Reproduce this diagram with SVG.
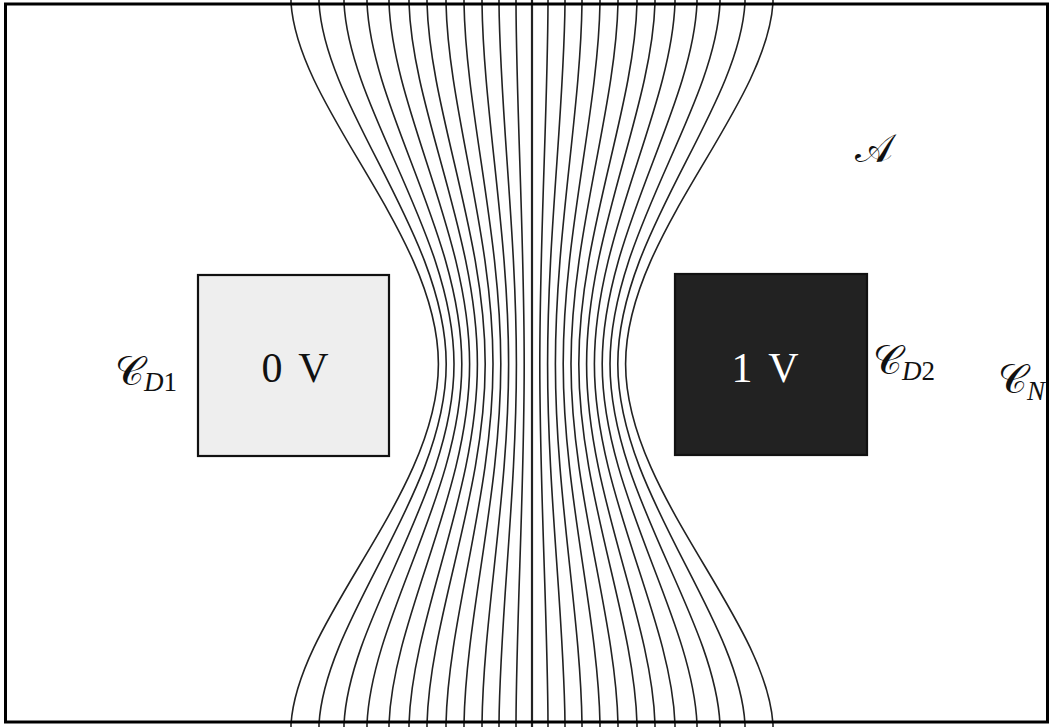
<svg xmlns="http://www.w3.org/2000/svg" xmlns:xlink="http://www.w3.org/1999/xlink" width="1051" height="727" viewBox="0 0 1051 727">
<style>
.fl{fill:none;stroke:#222;stroke-width:1.6}
.box{stroke:#111;stroke-width:2.2}
.val{font-family:"Liberation Serif",serif;font-size:42px;word-spacing:6px}
.cal{font-family:"DejaVu Serif","Liberation Serif",serif;font-size:40px;fill:#111}
.sub{font-family:"Liberation Serif",serif;font-size:27px;font-style:italic}
.subr{font-family:"Liberation Serif",serif;font-size:27px}
</style>
<defs>
<path id="fl" class="fl" vector-effect="non-scaling-stroke" d="M1,0 L1,3 C0.95,110 0,235 0,364 C0,493 0.95,617 1,724 L1,727"/>
</defs>
<rect x="0" y="0" width="1051" height="727" fill="#fff"/>
<g id="connectors">
<line x1="532" y1="0" x2="532" y2="727" stroke="#222" stroke-width="2.2"/>
<use xlink:href="#fl" transform="translate(539.8,0) scale(8.2,1)"/>
<use xlink:href="#fl" transform="translate(547.6,0) scale(17.4,1)"/>
<use xlink:href="#fl" transform="translate(555.4,0) scale(26.6,1)"/>
<use xlink:href="#fl" transform="translate(563.2,0) scale(36.8,1)"/>
<use xlink:href="#fl" transform="translate(571,0) scale(47,1)"/>
<use xlink:href="#fl" transform="translate(578.8,0) scale(58.2,1)"/>
<use xlink:href="#fl" transform="translate(586.6,0) scale(68.4,1)"/>
<use xlink:href="#fl" transform="translate(594.4,0) scale(80.6,1)"/>
<use xlink:href="#fl" transform="translate(602.2,0) scale(94.8,1)"/>
<use xlink:href="#fl" transform="translate(610,0) scale(110,1)"/>
<use xlink:href="#fl" transform="translate(617.8,0) scale(127.2,1)"/>
<use xlink:href="#fl" transform="translate(625.6,0) scale(147.4,1)"/>
<use xlink:href="#fl" transform="translate(524.2,0) scale(-8.2,1)"/>
<use xlink:href="#fl" transform="translate(516.4,0) scale(-17.4,1)"/>
<use xlink:href="#fl" transform="translate(508.6,0) scale(-26.6,1)"/>
<use xlink:href="#fl" transform="translate(500.8,0) scale(-36.8,1)"/>
<use xlink:href="#fl" transform="translate(493,0) scale(-47,1)"/>
<use xlink:href="#fl" transform="translate(485.2,0) scale(-58.2,1)"/>
<use xlink:href="#fl" transform="translate(477.4,0) scale(-68.4,1)"/>
<use xlink:href="#fl" transform="translate(469.6,0) scale(-80.6,1)"/>
<use xlink:href="#fl" transform="translate(461.8,0) scale(-94.8,1)"/>
<use xlink:href="#fl" transform="translate(454,0) scale(-110,1)"/>
<use xlink:href="#fl" transform="translate(446.2,0) scale(-127.2,1)"/>
<use xlink:href="#fl" transform="translate(438.4,0) scale(-147.4,1)"/>
</g>
<g id="conductor1">
<rect class="box" x="198" y="275" width="191" height="181" fill="#eeeeee"/>
<text class="val" x="295" y="382" text-anchor="middle" fill="#111">0 V</text>
</g>
<g id="conductor2">
<rect class="box" x="675" y="274" width="192" height="181" fill="#222222"/>
<text class="val" x="765" y="382" text-anchor="middle" fill="#ffffff">1 V</text>
</g>
<g id="label-CD1">
<text class="cal" x="115" y="385">𝒞<tspan class="sub" dy="6">D</tspan><tspan class="subr">1</tspan></text>
</g>
<g id="label-CD2">
<text class="cal" x="873" y="374">𝒞<tspan class="sub" dy="6">D</tspan><tspan class="subr">2</tspan></text>
</g>
<g id="label-CN">
<text class="cal" x="998" y="393">𝒞<tspan class="sub" dy="7">N</tspan></text>
</g>
<g id="label-A">
<text class="cal" x="855" y="162">𝒜</text>
</g>
<g id="frame">
<rect x="5.5" y="4" width="1042" height="718" fill="none" stroke="#000" stroke-width="3"/>
</g>
</svg>
